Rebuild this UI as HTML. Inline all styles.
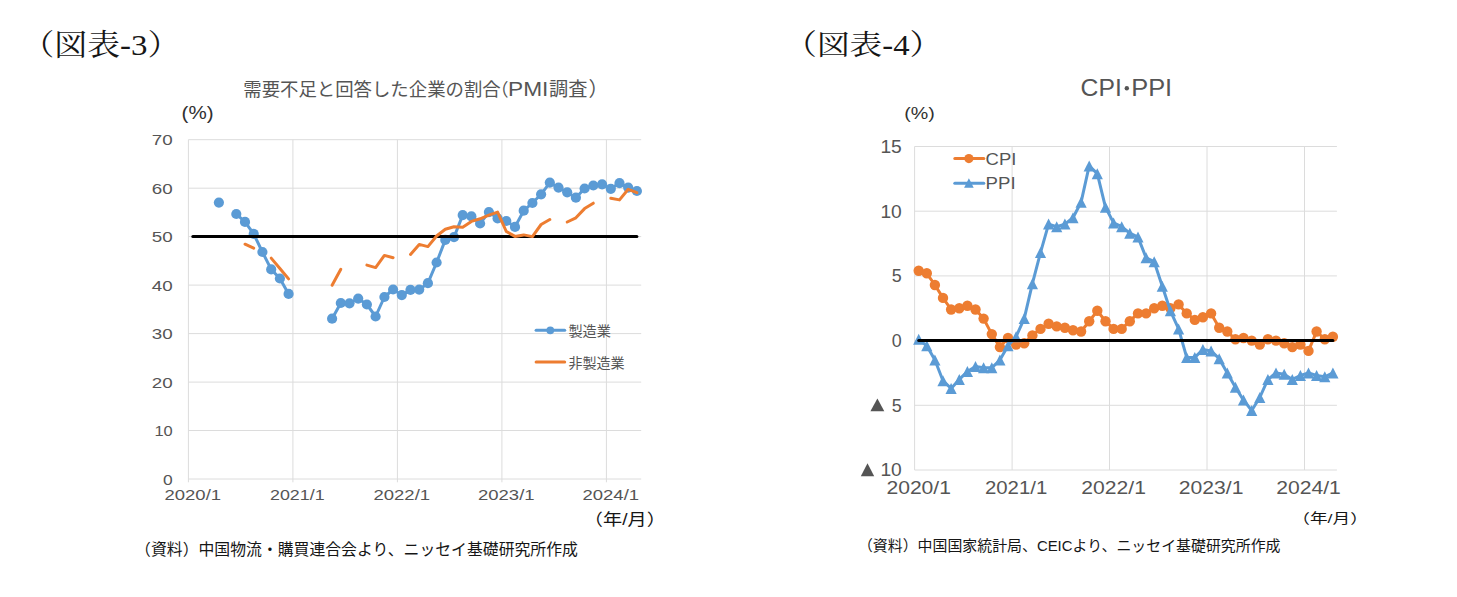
<!DOCTYPE html>
<html lang="ja">
<head>
<meta charset="utf-8">
<title>図表-3 / 図表-4</title>
<style>
html,body{margin:0;padding:0;background:#fff}
body{width:1457px;height:597px;overflow:hidden;font-family:"Liberation Sans","Noto Sans CJK JP",sans-serif}
svg{display:block}
svg text{font-family:"Liberation Sans","Noto Sans CJK JP",sans-serif}
svg text.mincho{font-family:"Liberation Serif","Noto Serif CJK SC",serif}
</style>
</head>
<body>
<svg width="1457" height="597" viewBox="0 0 1457 597">
<rect width="1457" height="597" fill="#fff"/>
<g id="chart1">
<line x1="188.4" y1="139.7" x2="641.2" y2="139.7" stroke="#dcdcdc" stroke-width="1"/>
<line x1="188.4" y1="188.2" x2="641.2" y2="188.2" stroke="#dcdcdc" stroke-width="1"/>
<line x1="188.4" y1="236.6" x2="641.2" y2="236.6" stroke="#dcdcdc" stroke-width="1"/>
<line x1="188.4" y1="285.1" x2="641.2" y2="285.1" stroke="#dcdcdc" stroke-width="1"/>
<line x1="188.4" y1="333.6" x2="641.2" y2="333.6" stroke="#dcdcdc" stroke-width="1"/>
<line x1="188.4" y1="382.1" x2="641.2" y2="382.1" stroke="#dcdcdc" stroke-width="1"/>
<line x1="188.4" y1="430.5" x2="641.2" y2="430.5" stroke="#dcdcdc" stroke-width="1"/>
<line x1="188.4" y1="479.0" x2="641.2" y2="479.0" stroke="#dcdcdc" stroke-width="1"/>
<line x1="188.4" y1="139.7" x2="188.4" y2="482.3" stroke="#dcdcdc" stroke-width="1"/>
<line x1="292.9" y1="139.7" x2="292.9" y2="482.3" stroke="#dcdcdc" stroke-width="1"/>
<line x1="397.4" y1="139.7" x2="397.4" y2="482.3" stroke="#dcdcdc" stroke-width="1"/>
<line x1="501.9" y1="139.7" x2="501.9" y2="482.3" stroke="#dcdcdc" stroke-width="1"/>
<line x1="606.4" y1="139.7" x2="606.4" y2="482.3" stroke="#dcdcdc" stroke-width="1"/>
<polyline points="236.3,214.0 245.0,221.9 253.7,233.9 262.4,252.0 271.2,269.4 279.9,278.5 288.6,293.9" fill="none" stroke="#5b9bd5" stroke-width="3.00" stroke-linecap="round" stroke-linejoin="round"/>
<polyline points="332.1,318.7 340.8,303.0 349.5,303.3 358.2,298.6 366.9,304.5 375.6,316.5 384.4,297.0 393.1,289.5 401.8,295.1 410.5,289.9 419.2,289.6 427.9,283.2 436.6,262.5 445.3,239.9 454.0,237.2 462.7,215.1 471.4,216.4 480.1,223.5 488.9,212.1 497.6,218.4 506.3,221.0 515.0,226.9 523.7,210.7 532.4,203.0 541.1,194.3 549.8,182.6 558.5,187.6 567.2,192.3 575.9,197.7 584.6,188.5 593.3,185.5 602.1,184.3 610.8,188.8 619.5,183.1 628.2,187.6 636.9,191.0" fill="none" stroke="#5b9bd5" stroke-width="3.00" stroke-linecap="round" stroke-linejoin="round"/>
<g fill="#5b9bd5"><circle cx="218.9" cy="202.6" r="5.1"/><circle cx="236.3" cy="214.0" r="5.1"/><circle cx="245.0" cy="221.9" r="5.1"/><circle cx="253.7" cy="233.9" r="5.1"/><circle cx="262.4" cy="252.0" r="5.1"/><circle cx="271.2" cy="269.4" r="5.1"/><circle cx="279.9" cy="278.5" r="5.1"/><circle cx="288.6" cy="293.9" r="5.1"/><circle cx="332.1" cy="318.7" r="5.1"/><circle cx="340.8" cy="303.0" r="5.1"/><circle cx="349.5" cy="303.3" r="5.1"/><circle cx="358.2" cy="298.6" r="5.1"/><circle cx="366.9" cy="304.5" r="5.1"/><circle cx="375.6" cy="316.5" r="5.1"/><circle cx="384.4" cy="297.0" r="5.1"/><circle cx="393.1" cy="289.5" r="5.1"/><circle cx="401.8" cy="295.1" r="5.1"/><circle cx="410.5" cy="289.9" r="5.1"/><circle cx="419.2" cy="289.6" r="5.1"/><circle cx="427.9" cy="283.2" r="5.1"/><circle cx="436.6" cy="262.5" r="5.1"/><circle cx="445.3" cy="239.9" r="5.1"/><circle cx="454.0" cy="237.2" r="5.1"/><circle cx="462.7" cy="215.1" r="5.1"/><circle cx="471.4" cy="216.4" r="5.1"/><circle cx="480.1" cy="223.5" r="5.1"/><circle cx="488.9" cy="212.1" r="5.1"/><circle cx="497.6" cy="218.4" r="5.1"/><circle cx="506.3" cy="221.0" r="5.1"/><circle cx="515.0" cy="226.9" r="5.1"/><circle cx="523.7" cy="210.7" r="5.1"/><circle cx="532.4" cy="203.0" r="5.1"/><circle cx="541.1" cy="194.3" r="5.1"/><circle cx="549.8" cy="182.6" r="5.1"/><circle cx="558.5" cy="187.6" r="5.1"/><circle cx="567.2" cy="192.3" r="5.1"/><circle cx="575.9" cy="197.7" r="5.1"/><circle cx="584.6" cy="188.5" r="5.1"/><circle cx="593.3" cy="185.5" r="5.1"/><circle cx="602.1" cy="184.3" r="5.1"/><circle cx="610.8" cy="188.8" r="5.1"/><circle cx="619.5" cy="183.1" r="5.1"/><circle cx="628.2" cy="187.6" r="5.1"/><circle cx="636.9" cy="191.0" r="5.1"/></g>
<polyline points="192.8,236.6 636.9,236.6" fill="none" stroke="#000" stroke-width="3.00" stroke-linecap="round" stroke-linejoin="round"/>
<polyline points="245.0,244.2 253.7,248.2" fill="none" stroke="#ed7d31" stroke-width="3.00" stroke-linecap="round" stroke-linejoin="round"/>
<polyline points="271.2,258.1 279.9,268.5 288.6,278.9" fill="none" stroke="#ed7d31" stroke-width="3.00" stroke-linecap="round" stroke-linejoin="round"/>
<polyline points="332.1,285.2 340.8,269.3" fill="none" stroke="#ed7d31" stroke-width="3.00" stroke-linecap="round" stroke-linejoin="round"/>
<polyline points="366.9,265.1 375.6,267.6 384.4,255.4 393.1,257.7" fill="none" stroke="#ed7d31" stroke-width="3.00" stroke-linecap="round" stroke-linejoin="round"/>
<polyline points="410.5,254.4 419.2,244.4 427.9,246.6 436.6,236.0 445.3,229.3 454.0,226.8 462.7,227.3 471.4,221.4 480.1,218.8 488.9,215.1 497.6,212.1 506.3,231.5 515.0,236.4 523.7,234.9 532.4,236.6 541.1,224.5 549.8,219.5" fill="none" stroke="#ed7d31" stroke-width="3.00" stroke-linecap="round" stroke-linejoin="round"/>
<polyline points="567.2,222.0 575.9,217.8 584.6,208.6 593.3,203.2" fill="none" stroke="#ed7d31" stroke-width="3.00" stroke-linecap="round" stroke-linejoin="round"/>
<polyline points="610.8,198.2 619.5,199.9 628.2,189.3 636.9,192.7" fill="none" stroke="#ed7d31" stroke-width="3.00" stroke-linecap="round" stroke-linejoin="round"/>
<text x="172.7" y="145.3" font-size="15.00" fill="#555555" text-anchor="end" textLength="20.9" lengthAdjust="spacingAndGlyphs">70</text>
<text x="172.7" y="193.8" font-size="15.00" fill="#555555" text-anchor="end" textLength="20.9" lengthAdjust="spacingAndGlyphs">60</text>
<text x="172.7" y="242.2" font-size="15.00" fill="#555555" text-anchor="end" textLength="20.9" lengthAdjust="spacingAndGlyphs">50</text>
<text x="172.7" y="290.7" font-size="15.00" fill="#555555" text-anchor="end" textLength="20.9" lengthAdjust="spacingAndGlyphs">40</text>
<text x="172.7" y="339.2" font-size="15.00" fill="#555555" text-anchor="end" textLength="20.9" lengthAdjust="spacingAndGlyphs">30</text>
<text x="172.7" y="387.7" font-size="15.00" fill="#555555" text-anchor="end" textLength="20.9" lengthAdjust="spacingAndGlyphs">20</text>
<text x="172.7" y="436.1" font-size="15.00" fill="#555555" text-anchor="end" textLength="18.3" lengthAdjust="spacingAndGlyphs">10</text>
<text x="172.7" y="484.6" font-size="15.00" fill="#555555" text-anchor="end" textLength="9.7" lengthAdjust="spacingAndGlyphs">0</text>
<text x="192.8" y="500.4" font-size="15.00" fill="#555555" text-anchor="middle" textLength="56.6" lengthAdjust="spacingAndGlyphs">2020/1</text>
<text x="297.3" y="500.4" font-size="15.00" fill="#555555" text-anchor="middle" textLength="54.6" lengthAdjust="spacingAndGlyphs">2021/1</text>
<text x="401.8" y="500.4" font-size="15.00" fill="#555555" text-anchor="middle" textLength="56.6" lengthAdjust="spacingAndGlyphs">2022/1</text>
<text x="506.3" y="500.4" font-size="15.00" fill="#555555" text-anchor="middle" textLength="56.6" lengthAdjust="spacingAndGlyphs">2023/1</text>
<text x="610.8" y="500.4" font-size="15.00" fill="#555555" text-anchor="middle" textLength="56.6" lengthAdjust="spacingAndGlyphs">2024/1</text>
<text x="181.6" y="118.7" font-size="17.80" fill="#303030" text-anchor="start" textLength="32.0" lengthAdjust="spacingAndGlyphs">(%)</text>
<polyline points="536.1,330.3 564.7,330.3" fill="none" stroke="#5b9bd5" stroke-width="3.00" stroke-linecap="round" stroke-linejoin="round"/>
<circle cx="550.3" cy="330.3" r="3.9" fill="#5b9bd5"/>
<polyline points="536.1,362.0 564.7,362.0" fill="none" stroke="#ed7d31" stroke-width="3.00" stroke-linecap="round" stroke-linejoin="round"/>
<text x="568.4" y="335.9" font-size="14.2" fill="#555555" text-anchor="start" textLength="42.5" lengthAdjust="spacingAndGlyphs">製造業</text>
<text x="568.4" y="367.6" font-size="14.1" fill="#555555" text-anchor="start" textLength="56.2" lengthAdjust="spacingAndGlyphs">非製造業</text>
<text x="243.3" y="95.96" font-size="18.4" fill="#555555" text-anchor="start" textLength="257.4" lengthAdjust="spacingAndGlyphs">需要不足と回答した企業の割合</text>
<text x="491.07" y="95.96" font-size="17.5" fill="#555555" text-anchor="start">（</text>
<text x="508.04" y="95.7" font-size="19.40" fill="#555555" textLength="40.36" lengthAdjust="spacingAndGlyphs">PMI</text>
<text x="549.03" y="95.96" font-size="19.2" fill="#555555" text-anchor="start" textLength="38.4" lengthAdjust="spacingAndGlyphs">調査</text>
<text x="588.6" y="95.96" font-size="20" fill="#555555" text-anchor="start">）</text>
<text x="583.8" y="525.1" font-size="16.2" fill="#161616" text-anchor="start" textLength="82" lengthAdjust="spacingAndGlyphs">（年/月）</text>
<text x="135.1" y="554.8" font-size="16" fill="#161616" text-anchor="start" textLength="442.8" lengthAdjust="spacingAndGlyphs">（資料）中国物流・購買連合会より、ニッセイ基礎研究所作成</text>
<text class="mincho" x="21.4" y="54.8" font-size="29.5" fill="#161616" text-anchor="start" textLength="159" lengthAdjust="spacingAndGlyphs">（図表-3）</text>
</g>
<g id="chart2">
<line x1="914.6" y1="146.5" x2="1336.9" y2="146.5" stroke="#dcdcdc" stroke-width="1"/>
<line x1="914.6" y1="211.2" x2="1336.9" y2="211.2" stroke="#dcdcdc" stroke-width="1"/>
<line x1="914.6" y1="275.9" x2="1336.9" y2="275.9" stroke="#dcdcdc" stroke-width="1"/>
<line x1="914.6" y1="340.6" x2="1336.9" y2="340.6" stroke="#dcdcdc" stroke-width="1"/>
<line x1="914.6" y1="405.3" x2="1336.9" y2="405.3" stroke="#dcdcdc" stroke-width="1"/>
<line x1="914.6" y1="470.0" x2="1336.9" y2="470.0" stroke="#dcdcdc" stroke-width="1"/>
<line x1="914.6" y1="146.5" x2="914.6" y2="470.0" stroke="#dcdcdc" stroke-width="1"/>
<line x1="1012.1" y1="146.5" x2="1012.1" y2="470.0" stroke="#dcdcdc" stroke-width="1"/>
<line x1="1109.5" y1="146.5" x2="1109.5" y2="470.0" stroke="#dcdcdc" stroke-width="1"/>
<line x1="1207.0" y1="146.5" x2="1207.0" y2="470.0" stroke="#dcdcdc" stroke-width="1"/>
<line x1="1304.5" y1="146.5" x2="1304.5" y2="470.0" stroke="#dcdcdc" stroke-width="1"/>
<polyline points="918.7,270.7 926.8,273.3 934.9,285.0 943.0,297.9 951.1,309.5 959.3,308.2 967.4,305.7 975.5,309.5 983.6,318.6 991.8,334.1 999.9,347.1 1008.0,338.0 1016.1,344.5 1024.2,343.2 1032.4,335.4 1040.5,328.9 1048.6,323.8 1056.7,326.4 1064.9,327.7 1073.0,330.2 1081.1,331.5 1089.2,321.2 1097.3,310.8 1105.5,321.2 1113.6,328.9 1121.7,328.9 1129.8,321.2 1138.0,313.4 1146.1,313.4 1154.2,308.2 1162.3,305.7 1170.4,308.2 1178.6,304.4 1186.7,313.4 1194.8,319.9 1202.9,317.3 1211.1,313.4 1219.2,327.7 1227.3,331.5 1235.4,339.3 1243.5,338.0 1251.7,340.6 1259.8,344.5 1267.9,339.3 1276.0,340.6 1284.2,343.2 1292.3,347.1 1300.4,344.5 1308.5,350.9 1316.6,331.5 1324.8,339.3 1332.9,336.7" fill="none" stroke="#ed7d31" stroke-width="3.00" stroke-linecap="round" stroke-linejoin="round"/>
<g fill="#ed7d31"><circle cx="918.7" cy="270.7" r="5.2"/><circle cx="926.8" cy="273.3" r="5.2"/><circle cx="934.9" cy="285.0" r="5.2"/><circle cx="943.0" cy="297.9" r="5.2"/><circle cx="951.1" cy="309.5" r="5.2"/><circle cx="959.3" cy="308.2" r="5.2"/><circle cx="967.4" cy="305.7" r="5.2"/><circle cx="975.5" cy="309.5" r="5.2"/><circle cx="983.6" cy="318.6" r="5.2"/><circle cx="991.8" cy="334.1" r="5.2"/><circle cx="999.9" cy="347.1" r="5.2"/><circle cx="1008.0" cy="338.0" r="5.2"/><circle cx="1016.1" cy="344.5" r="5.2"/><circle cx="1024.2" cy="343.2" r="5.2"/><circle cx="1032.4" cy="335.4" r="5.2"/><circle cx="1040.5" cy="328.9" r="5.2"/><circle cx="1048.6" cy="323.8" r="5.2"/><circle cx="1056.7" cy="326.4" r="5.2"/><circle cx="1064.9" cy="327.7" r="5.2"/><circle cx="1073.0" cy="330.2" r="5.2"/><circle cx="1081.1" cy="331.5" r="5.2"/><circle cx="1089.2" cy="321.2" r="5.2"/><circle cx="1097.3" cy="310.8" r="5.2"/><circle cx="1105.5" cy="321.2" r="5.2"/><circle cx="1113.6" cy="328.9" r="5.2"/><circle cx="1121.7" cy="328.9" r="5.2"/><circle cx="1129.8" cy="321.2" r="5.2"/><circle cx="1138.0" cy="313.4" r="5.2"/><circle cx="1146.1" cy="313.4" r="5.2"/><circle cx="1154.2" cy="308.2" r="5.2"/><circle cx="1162.3" cy="305.7" r="5.2"/><circle cx="1170.4" cy="308.2" r="5.2"/><circle cx="1178.6" cy="304.4" r="5.2"/><circle cx="1186.7" cy="313.4" r="5.2"/><circle cx="1194.8" cy="319.9" r="5.2"/><circle cx="1202.9" cy="317.3" r="5.2"/><circle cx="1211.1" cy="313.4" r="5.2"/><circle cx="1219.2" cy="327.7" r="5.2"/><circle cx="1227.3" cy="331.5" r="5.2"/><circle cx="1235.4" cy="339.3" r="5.2"/><circle cx="1243.5" cy="338.0" r="5.2"/><circle cx="1251.7" cy="340.6" r="5.2"/><circle cx="1259.8" cy="344.5" r="5.2"/><circle cx="1267.9" cy="339.3" r="5.2"/><circle cx="1276.0" cy="340.6" r="5.2"/><circle cx="1284.2" cy="343.2" r="5.2"/><circle cx="1292.3" cy="347.1" r="5.2"/><circle cx="1300.4" cy="344.5" r="5.2"/><circle cx="1308.5" cy="350.9" r="5.2"/><circle cx="1316.6" cy="331.5" r="5.2"/><circle cx="1324.8" cy="339.3" r="5.2"/><circle cx="1332.9" cy="336.7" r="5.2"/></g>
<polyline points="918.7,339.3 926.8,345.8 934.9,360.0 943.0,380.7 951.1,388.5 959.3,379.4 967.4,371.6 975.5,366.5 983.6,367.8 991.8,367.8 999.9,360.0 1008.0,345.8 1016.1,336.7 1024.2,318.6 1032.4,283.7 1040.5,252.6 1048.6,224.1 1056.7,226.7 1064.9,224.1 1073.0,217.7 1081.1,202.2 1089.2,165.9 1097.3,173.7 1105.5,207.3 1113.6,222.9 1121.7,226.7 1129.8,233.2 1138.0,237.1 1146.1,257.8 1154.2,261.7 1162.3,286.3 1170.4,310.8 1178.6,328.9 1186.7,357.4 1194.8,357.4 1202.9,349.6 1211.1,350.9 1219.2,358.7 1227.3,372.9 1235.4,387.2 1243.5,400.1 1251.7,410.5 1259.8,397.5 1267.9,379.4 1276.0,372.9 1284.2,374.2 1292.3,379.4 1300.4,375.5 1308.5,372.9 1316.6,375.5 1324.8,376.8 1332.9,372.9" fill="none" stroke="#5b9bd5" stroke-width="3.00" stroke-linecap="round" stroke-linejoin="round"/>
<polygon points="918.7,333.8 924.3,344.8 913.1,344.8" fill="#5b9bd5"/>
<polygon points="926.8,340.3 932.4,351.3 921.2,351.3" fill="#5b9bd5"/>
<polygon points="934.9,354.5 940.5,365.5 929.3,365.5" fill="#5b9bd5"/>
<polygon points="943.0,375.2 948.6,386.2 937.4,386.2" fill="#5b9bd5"/>
<polygon points="951.1,383.0 956.7,394.0 945.5,394.0" fill="#5b9bd5"/>
<polygon points="959.3,373.9 964.9,384.9 953.7,384.9" fill="#5b9bd5"/>
<polygon points="967.4,366.1 973.0,377.1 961.8,377.1" fill="#5b9bd5"/>
<polygon points="975.5,361.0 981.1,372.0 969.9,372.0" fill="#5b9bd5"/>
<polygon points="983.6,362.3 989.2,373.3 978.0,373.3" fill="#5b9bd5"/>
<polygon points="991.8,362.3 997.4,373.3 986.2,373.3" fill="#5b9bd5"/>
<polygon points="999.9,354.5 1005.5,365.5 994.3,365.5" fill="#5b9bd5"/>
<polygon points="1008.0,340.3 1013.6,351.3 1002.4,351.3" fill="#5b9bd5"/>
<polygon points="1016.1,331.2 1021.7,342.2 1010.5,342.2" fill="#5b9bd5"/>
<polygon points="1024.2,313.1 1029.8,324.1 1018.6,324.1" fill="#5b9bd5"/>
<polygon points="1032.4,278.2 1038.0,289.2 1026.8,289.2" fill="#5b9bd5"/>
<polygon points="1040.5,247.1 1046.1,258.1 1034.9,258.1" fill="#5b9bd5"/>
<polygon points="1048.6,218.6 1054.2,229.6 1043.0,229.6" fill="#5b9bd5"/>
<polygon points="1056.7,221.2 1062.3,232.2 1051.1,232.2" fill="#5b9bd5"/>
<polygon points="1064.9,218.6 1070.5,229.6 1059.3,229.6" fill="#5b9bd5"/>
<polygon points="1073.0,212.2 1078.6,223.2 1067.4,223.2" fill="#5b9bd5"/>
<polygon points="1081.1,196.7 1086.7,207.7 1075.5,207.7" fill="#5b9bd5"/>
<polygon points="1089.2,160.4 1094.8,171.4 1083.6,171.4" fill="#5b9bd5"/>
<polygon points="1097.3,168.2 1102.9,179.2 1091.7,179.2" fill="#5b9bd5"/>
<polygon points="1105.5,201.8 1111.1,212.8 1099.9,212.8" fill="#5b9bd5"/>
<polygon points="1113.6,217.4 1119.2,228.4 1108.0,228.4" fill="#5b9bd5"/>
<polygon points="1121.7,221.2 1127.3,232.2 1116.1,232.2" fill="#5b9bd5"/>
<polygon points="1129.8,227.7 1135.4,238.7 1124.2,238.7" fill="#5b9bd5"/>
<polygon points="1138.0,231.6 1143.6,242.6 1132.4,242.6" fill="#5b9bd5"/>
<polygon points="1146.1,252.3 1151.7,263.3 1140.5,263.3" fill="#5b9bd5"/>
<polygon points="1154.2,256.2 1159.8,267.2 1148.6,267.2" fill="#5b9bd5"/>
<polygon points="1162.3,280.8 1167.9,291.8 1156.7,291.8" fill="#5b9bd5"/>
<polygon points="1170.4,305.3 1176.0,316.3 1164.8,316.3" fill="#5b9bd5"/>
<polygon points="1178.6,323.4 1184.2,334.4 1173.0,334.4" fill="#5b9bd5"/>
<polygon points="1186.7,351.9 1192.3,362.9 1181.1,362.9" fill="#5b9bd5"/>
<polygon points="1194.8,351.9 1200.4,362.9 1189.2,362.9" fill="#5b9bd5"/>
<polygon points="1202.9,344.1 1208.5,355.1 1197.3,355.1" fill="#5b9bd5"/>
<polygon points="1211.1,345.4 1216.7,356.4 1205.5,356.4" fill="#5b9bd5"/>
<polygon points="1219.2,353.2 1224.8,364.2 1213.6,364.2" fill="#5b9bd5"/>
<polygon points="1227.3,367.4 1232.9,378.4 1221.7,378.4" fill="#5b9bd5"/>
<polygon points="1235.4,381.7 1241.0,392.7 1229.8,392.7" fill="#5b9bd5"/>
<polygon points="1243.5,394.6 1249.1,405.6 1237.9,405.6" fill="#5b9bd5"/>
<polygon points="1251.7,405.0 1257.3,416.0 1246.1,416.0" fill="#5b9bd5"/>
<polygon points="1259.8,392.0 1265.4,403.0 1254.2,403.0" fill="#5b9bd5"/>
<polygon points="1267.9,373.9 1273.5,384.9 1262.3,384.9" fill="#5b9bd5"/>
<polygon points="1276.0,367.4 1281.6,378.4 1270.4,378.4" fill="#5b9bd5"/>
<polygon points="1284.2,368.7 1289.8,379.7 1278.6,379.7" fill="#5b9bd5"/>
<polygon points="1292.3,373.9 1297.9,384.9 1286.7,384.9" fill="#5b9bd5"/>
<polygon points="1300.4,370.0 1306.0,381.0 1294.8,381.0" fill="#5b9bd5"/>
<polygon points="1308.5,367.4 1314.1,378.4 1302.9,378.4" fill="#5b9bd5"/>
<polygon points="1316.6,370.0 1322.2,381.0 1311.0,381.0" fill="#5b9bd5"/>
<polygon points="1324.8,371.3 1330.4,382.3 1319.2,382.3" fill="#5b9bd5"/>
<polygon points="1332.9,367.4 1338.5,378.4 1327.3,378.4" fill="#5b9bd5"/>
<polyline points="918.7,340.6 1332.9,340.6" fill="none" stroke="#000" stroke-width="3.00" stroke-linecap="round" stroke-linejoin="round"/>
<text x="901.8" y="152.9" font-size="17.90" fill="#555555" text-anchor="end" textLength="21.4" lengthAdjust="spacingAndGlyphs">15</text>
<text x="901.8" y="217.6" font-size="17.90" fill="#555555" text-anchor="end" textLength="21.4" lengthAdjust="spacingAndGlyphs">10</text>
<text x="901.8" y="282.3" font-size="17.90" fill="#555555" text-anchor="end">5</text>
<text x="901.8" y="347.0" font-size="17.90" fill="#555555" text-anchor="end">0</text>
<text x="901.8" y="411.7" font-size="17.90" fill="#555555" text-anchor="end">5</text>
<text x="901.8" y="476.4" font-size="17.90" fill="#555555" text-anchor="end" textLength="21.4" lengthAdjust="spacingAndGlyphs">10</text>
<g role="img" aria-label="▲"><polygon points="877.4,398.4 884.3,411.3 870.4,411.3" fill="#555555"/></g>
<g role="img" aria-label="▲"><polygon points="867.5,463.2 874.2,476.3 860.8,476.3" fill="#555555"/></g>
<text x="918.7" y="493.5" font-size="17.90" fill="#555555" text-anchor="middle" textLength="64.6" lengthAdjust="spacingAndGlyphs">2020/1</text>
<text x="1016.1" y="493.5" font-size="17.90" fill="#555555" text-anchor="middle" textLength="62.4" lengthAdjust="spacingAndGlyphs">2021/1</text>
<text x="1113.6" y="493.5" font-size="17.90" fill="#555555" text-anchor="middle" textLength="64.6" lengthAdjust="spacingAndGlyphs">2022/1</text>
<text x="1211.1" y="493.5" font-size="17.90" fill="#555555" text-anchor="middle" textLength="64.6" lengthAdjust="spacingAndGlyphs">2023/1</text>
<text x="1308.5" y="493.5" font-size="17.90" fill="#555555" text-anchor="middle" textLength="64.6" lengthAdjust="spacingAndGlyphs">2024/1</text>
<text x="904.2" y="118.6" font-size="15.80" fill="#303030" text-anchor="start" textLength="30.6" lengthAdjust="spacingAndGlyphs">(%)</text>
<polyline points="954.8,158.6 983.8,158.6" fill="none" stroke="#ed7d31" stroke-width="3.00" stroke-linecap="round" stroke-linejoin="round"/>
<circle cx="968.9" cy="158.6" r="4.6" fill="#ed7d31"/>
<text x="985.6" y="164.5" font-size="17.00" fill="#555555" text-anchor="start" textLength="30.8" lengthAdjust="spacingAndGlyphs">CPI</text>
<polyline points="954.8,183.2 983.8,183.2" fill="none" stroke="#5b9bd5" stroke-width="3.00" stroke-linecap="round" stroke-linejoin="round"/>
<polygon points="968.9,178.2 973.7,187.8 964.1,187.8" fill="#5b9bd5"/>
<text x="985.6" y="189.1" font-size="17.00" fill="#555555" text-anchor="start" textLength="30.0" lengthAdjust="spacingAndGlyphs">PPI</text>
<g role="img" aria-label="CPI・PPI"><title>CPI・PPI</title>
<text x="1080.6" y="96.2" font-size="23.70" fill="#555555" text-anchor="start" textLength="41.2" lengthAdjust="spacingAndGlyphs">CPI</text>
<circle cx="1126.8" cy="88.3" r="2.2" fill="#555555"/>
<text x="1131.2" y="96.2" font-size="23.70" fill="#555555" text-anchor="start" textLength="41.0" lengthAdjust="spacingAndGlyphs">PPI</text>
</g>
<text x="1292.3" y="523.3" font-size="13.6" fill="#161616" text-anchor="start" textLength="75.5" lengthAdjust="spacingAndGlyphs">（年/月）</text>
<text x="857.9" y="550.9" font-size="15" fill="#161616" text-anchor="start" textLength="422.6" lengthAdjust="spacingAndGlyphs">（資料）中国国家統計局、CEICより、ニッセイ基礎研究所作成</text>
<text class="mincho" x="784.2" y="54.7" font-size="28.8" fill="#161616" text-anchor="start" textLength="158.1" lengthAdjust="spacingAndGlyphs">（図表-4）</text>
</g>
</svg>
</body>
</html>
